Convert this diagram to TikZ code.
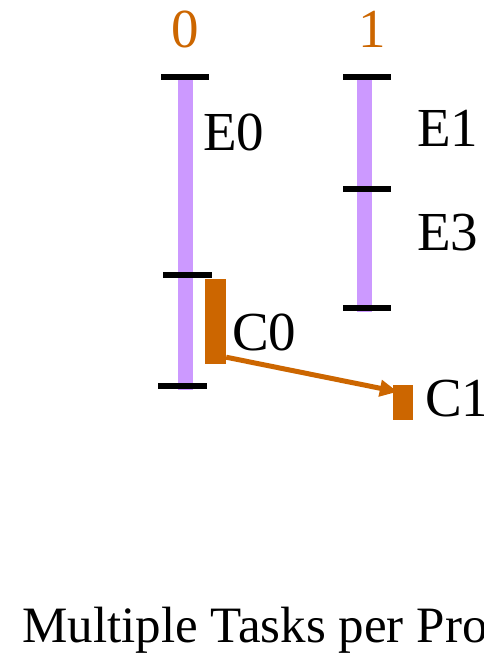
\documentclass[tikz,border=0pt]{standalone}
\usepackage{fontspec}
\setmainfont{Liberation Serif}
\usetikzlibrary{arrows.meta, positioning}
\definecolor{taskpurple}{HTML}{CC99FF}
\definecolor{commorange}{HTML}{CC6600}

\tikzset{
    task/.style={line width=15pt, taskpurple},
    tickmark/.style={line width=6pt, black},
    msgbox/.style={draw=none, fill=commorange, inner sep=0pt},
    lbl/.style={inner sep=0pt, anchor=base west, font=\fontsize{55}{60}\selectfont},
}

\begin{document}
\begin{tikzpicture}[x=1pt, y=-1pt]
    \useasboundingbox (0,0) rectangle (483,654);
    \clip (0,0) rectangle (483,654);

    % Processor numbers
    \node[lbl, anchor=base, commorange] (p0) at (185,47) {0};
    \node[lbl, anchor=base, commorange] (p1) at (372,47) {1};

    % Tasks on processor 0
    \draw[task] (185.5,74) -- (185.5,275);
    \draw[task] (185,275) -- (185,390);
    \draw[tickmark] (161,77) -- (209,77);
    \draw[tickmark] (163,275) -- (212,275);
    \draw[tickmark] (158,386) -- (207,386);
    \node[lbl] (e0) at (203,150) {E0};

    % Tasks on processor 1
    \draw[task] (364.5,77) -- (364.5,312);
    \draw[tickmark] (343,77) -- (391,77);
    \draw[tickmark] (343,189) -- (391,189);
    \draw[tickmark] (343,308) -- (391,308);
    \node[lbl] (e1) at (417,146) {E1};
    \node[lbl] (e3) at (417,250) {E3};

    % Communication
    \node[msgbox, minimum width=21pt, minimum height=85pt] (c0) at (215.5,321.5) {};
    \node[msgbox, minimum width=20pt, minimum height=35pt] (c1) at (403,402.5) {};
    \node[lbl] (c0lbl) at (232,350) {C0};
    \node[lbl] (c1lbl) at (425,416) {C1};
    \draw[line width=5pt, commorange, -{Triangle[length=18pt, width=16pt]}]
        ([yshift=7pt]c0.south east) -- ([xshift=5pt, yshift=-7pt]c1.north west);

    % Caption
    \node[lbl, font=\fontsize{51}{56}\selectfont] (cap) at (22,642) {Multiple Tasks per Processor};
\end{tikzpicture}
\end{document}
